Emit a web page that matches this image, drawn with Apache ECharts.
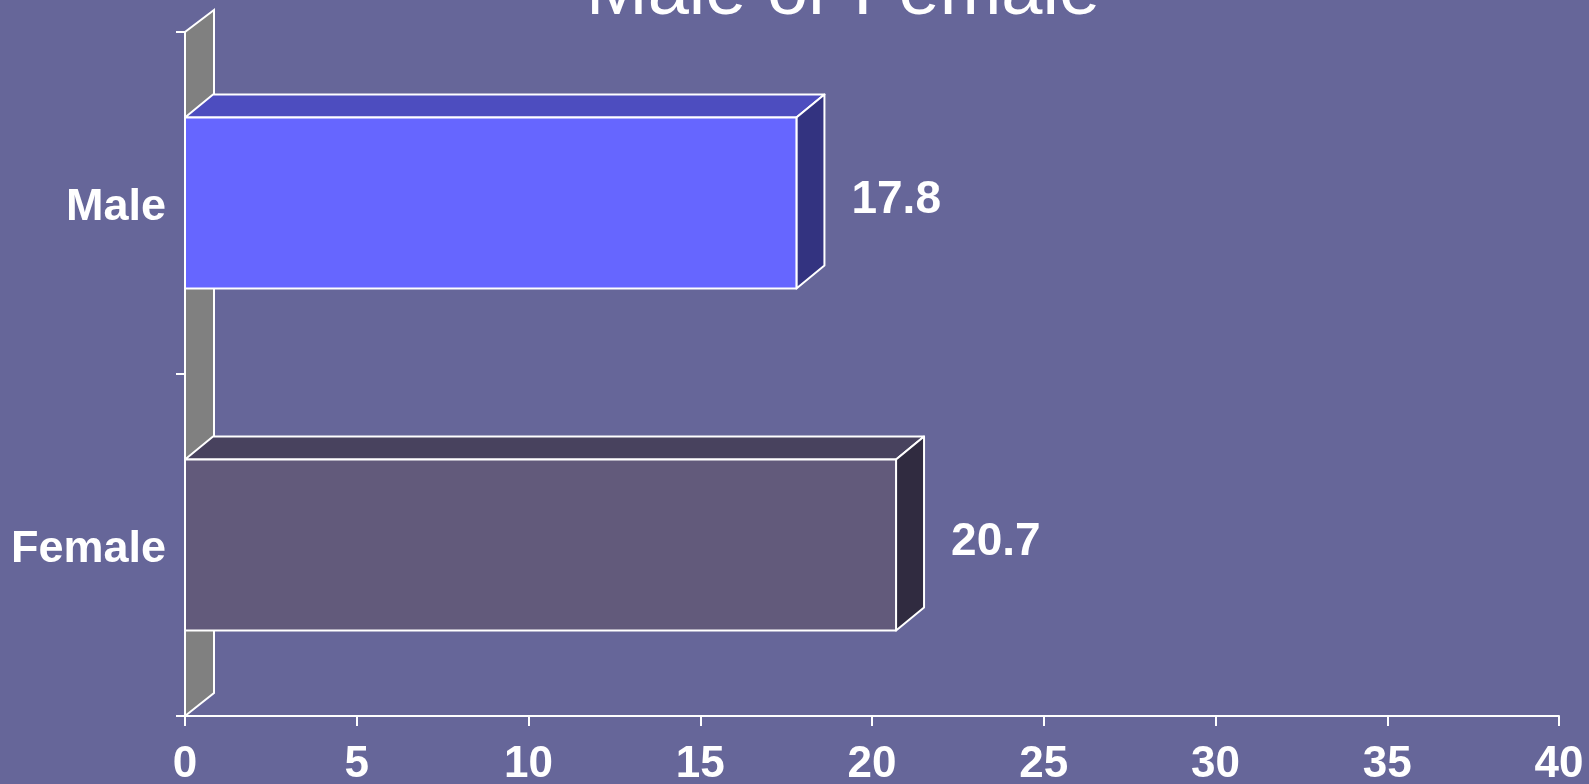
<!DOCTYPE html>
<html>
<head>
<meta charset="utf-8">
<script src="https://cdn.jsdelivr.net/npm/echarts@6/dist/echarts.min.js"></script>
<style>
  html, body { margin: 0; padding: 0; background: #666699; }
  #chart { width: 1589px; height: 784px; }
</style>
</head>
<body>
<div id="chart"></div>
<script>
  // data
  var categories = ['Male', 'Female'];
  var values = [17.8, 20.7];
  var xMin = 0, xMax = 40, xStep = 5;

  // colours per bar: front, top, side
  var faceColors = [
    ['#6666ff', '#4d4dbf', '#333380'],
    ['#625a7b', '#48425e', '#302b40']
  ];

  var DX = 28, DY = -23; // depth offset of 3D effect
  var font = '"Liberation Sans", Arial, sans-serif';

  var myChart = echarts.init(document.getElementById('chart'));

  myChart.setOption({
    backgroundColor: '#666699',
    animation: false,
    title: {
      text: 'Male or Female',
      left: 581,
      top: -48,
      textStyle: { color: '#ffffff', fontSize: 74, fontWeight: 'normal', fontFamily: font }
    },
    grid: { left: 185, right: 30, top: 32, bottom: 68, containLabel: false, outerBoundsMode: 'none' },
    xAxis: {
      type: 'value',
      min: xMin,
      max: xMax,
      interval: xStep,
      splitLine: { show: false },
      axisLine: { show: true, lineStyle: { color: '#ffffff', width: 2 } },
      axisTick: { show: true, length: 10, lineStyle: { color: '#ffffff', width: 2 } },
      axisLabel: { color: '#ffffff', fontSize: 44, fontWeight: 'bold', fontFamily: font, margin: 27 }
    },
    yAxis: {
      type: 'category',
      inverse: true,
      data: categories,
      axisLine: { show: true, lineStyle: { color: '#ffffff', width: 2 } },
      axisTick: { show: true, length: 9, lineStyle: { color: '#ffffff', width: 2 } },
      axisLabel: {
        color: '#ffffff', fontSize: 45, fontWeight: 'bold', fontFamily: font, margin: 19,
        formatter: '{a|{value}}',
        rich: { a: { color: '#ffffff', fontSize: 45, fontWeight: 'bold', fontFamily: font, padding: [9, 0, 0, 0] } }
      }
    },
    series: [
      {
        // side wall
        type: 'custom',
        silent: true,
        z: 1,
        data: [[0]],
        renderItem: function (params, api) {
          var cs = params.coordSys;
          var x0 = api.coord([0, 0])[0];
          var yT = cs.y, yB = cs.y + cs.height;
          return {
            type: 'polygon',
            shape: { points: [[x0, yB], [x0, yT], [x0 + DX + 1, yT + DY + 1], [x0 + DX + 1, yB + DY]] },
            style: { fill: '#808080', stroke: '#ffffff', lineWidth: 2 }
          };
        }
      },
      {
        type: 'custom',
        z: 3,
        data: values.map(function (v, i) { return [v, i]; }),
        renderItem: function (params, api) {
          var i = params.dataIndex;
          var start = api.coord([0, api.value(1)]);
          var end = api.coord([api.value(0), api.value(1)]);
          var h = api.size([0, 1])[1] * 0.5;
          var x0 = start[0], x1 = end[0];
          var yT = start[1] - h / 2, yB = start[1] + h / 2;
          var c = faceColors[i];
          var edge = { stroke: '#ffffff', lineWidth: 2, lineJoin: 'round' };
          return {
            type: 'group',
            children: [
              {
                type: 'polygon',
                shape: { points: [[x0, yT], [x1, yT], [x1 + DX, yT + DY], [x0 + DX, yT + DY]] },
                style: echarts.util.extend({ fill: c[1] }, edge)
              },
              {
                type: 'polygon',
                shape: { points: [[x1, yT], [x1 + DX, yT + DY], [x1 + DX, yB + DY], [x1, yB]] },
                style: echarts.util.extend({ fill: c[2] }, edge)
              },
              {
                type: 'rect',
                shape: { x: x0, y: yT, width: x1 - x0, height: h },
                style: echarts.util.extend({ fill: c[0] }, edge)
              },
              {
                type: 'text',
                x: x1 + DX + 27,
                y: start[1] - 3,
                style: {
                  text: String(api.value(0)),
                  fill: '#ffffff',
                  font: 'bold 46px ' + font,
                  textAlign: 'left',
                  textVerticalAlign: 'middle'
                }
              }
            ]
          };
        }
      }
    ]
  });
  window.onresize = myChart.resize;
</script>
</body>
</html>
